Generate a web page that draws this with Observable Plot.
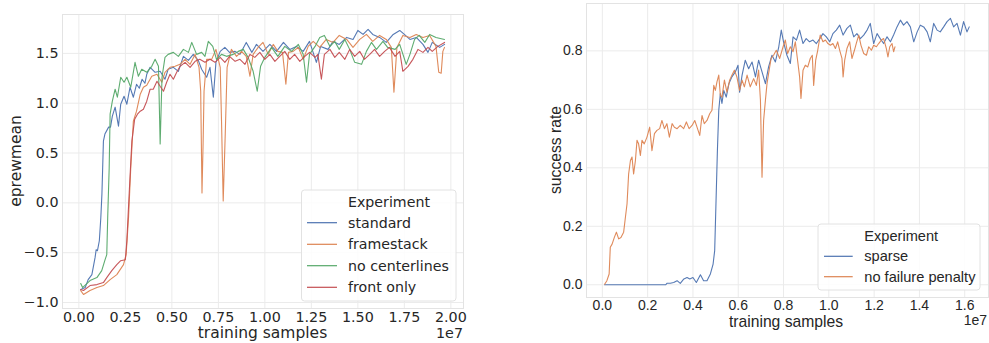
<!DOCTYPE html>
<html><head><meta charset="utf-8">
<script src="https://cdn.jsdelivr.net/npm/d3@7"></script>
<script src="https://cdn.jsdelivr.net/npm/@observablehq/plot@0.6"></script>
<style>
html,body{margin:0;padding:0;background:#fff;}
#wrap{position:relative;width:989px;height:343px;overflow:hidden;background:#fff;}
#left{position:absolute;left:0;top:0;}
#right{position:absolute;left:500px;top:0;}
</style></head><body><div id="wrap"><div id="left"></div><div id="right"></div></div>
<script>
// ---------- Left panel data (x in units of 1e7) ----------
const leftCategories = ["standard", "framestack", "no centerlines", "front only"];
const leftColors = ["#4c72b0", "#dd8452", "#55a868", "#c44e52"];
const leftXTicks = [0, 0.25, 0.5, 0.75, 1.0, 1.25, 1.5, 1.75, 2.0];
const leftYTicks = [-1.0, -0.5, 0.0, 0.5, 1.0, 1.5];

const standard = [[0.01,-0.87],[0.034,-0.85],[0.05,-0.77],[0.07,-0.72],[0.087,-0.55],[0.093,-0.47],[0.10,-0.48],[0.11,-0.38],[0.118,-0.15],[0.124,0.09],[0.129,0.42],[0.132,0.62],[0.14,0.69],[0.16,0.76],[0.17,0.76],[0.18,0.87],[0.195,0.96],[0.213,0.77],[0.225,0.99],[0.243,1.07],[0.258,0.99],[0.275,1.16],[0.293,1.06],[0.31,1.19],[0.325,1.15],[0.34,1.24],[0.355,1.2],[0.365,1.29],[0.383,1.36],[0.41,1.31],[0.437,1.32],[0.463,1.24],[0.48,1.34],[0.508,1.36],[0.535,1.32],[0.562,1.47],[0.589,1.43],[0.615,1.49],[0.642,1.43],[0.66,1.34],[0.687,1.26],[0.705,1.36],[0.723,1.06],[0.737,1.41],[0.76,1.52],[0.785,1.56],[0.81,1.51],[0.84,1.52],[0.866,1.49],[0.9,1.61],[0.93,1.51],[0.955,1.59],[0.99,1.52],[1.027,1.59],[1.063,1.52],[1.1,1.61],[1.134,1.54],[1.17,1.57],[1.206,1.52],[1.24,1.62],[1.277,1.41],[1.3,1.57],[1.34,1.54],[1.367,1.62],[1.4,1.59],[1.44,1.66],[1.474,1.64],[1.5,1.73],[1.528,1.69],[1.555,1.74],[1.58,1.69],[1.617,1.66],[1.653,1.61],[1.69,1.69],[1.725,1.73],[1.75,1.69],[1.78,1.64],[1.814,1.66],[1.85,1.59],[1.877,1.51],[1.9,1.61],[1.94,1.56],[1.966,1.59]];

const framestack = [[0.01,-0.88],[0.025,-0.92],[0.06,-0.88],[0.097,-0.85],[0.132,-0.83],[0.168,-0.77],[0.204,-0.72],[0.24,-0.62],[0.254,-0.52],[0.267,-0.15],[0.279,0.35],[0.293,0.82],[0.31,0.92],[0.33,1.09],[0.347,1.16],[0.365,1.18],[0.392,1.27],[0.42,1.29],[0.446,1.21],[0.463,1.31],[0.49,1.36],[0.517,1.37],[0.544,1.39],[0.571,1.44],[0.598,1.39],[0.625,1.49],[0.646,1.36],[0.655,1.12],[0.662,0.10],[0.668,0.6],[0.673,1.12],[0.687,1.44],[0.714,1.44],[0.737,1.54],[0.76,1.36],[0.767,0.82],[0.776,0.02],[0.787,0.69],[0.797,1.36],[0.82,1.54],[0.848,1.47],[0.875,1.52],[0.9,1.47],[0.92,1.27],[0.937,1.49],[0.964,1.56],[0.99,1.61],[1.018,1.49],[1.045,1.59],[1.07,1.52],[1.095,1.51],[1.113,1.19],[1.127,1.51],[1.152,1.52],[1.18,1.56],[1.206,1.44],[1.233,1.57],[1.26,1.62],[1.295,1.56],[1.33,1.64],[1.367,1.61],[1.4,1.68],[1.44,1.64],[1.474,1.56],[1.51,1.64],[1.546,1.69],[1.58,1.62],[1.617,1.68],[1.653,1.64],[1.68,1.56],[1.694,1.11],[1.71,1.56],[1.742,1.68],[1.78,1.66],[1.814,1.69],[1.85,1.66],[1.886,1.68],[1.92,1.57],[1.935,1.31],[1.948,1.30],[1.957,1.52],[1.966,1.56]];

const noCenterlines = [[0.01,-0.81],[0.02,-0.85],[0.06,-0.78],[0.097,-0.75],[0.123,-0.68],[0.141,-0.57],[0.15,-0.52],[0.155,-0.15],[0.163,0.35],[0.168,0.89],[0.18,1.02],[0.195,1.14],[0.207,1.06],[0.225,1.26],[0.243,1.21],[0.258,1.26],[0.279,1.16],[0.302,1.41],[0.32,1.27],[0.338,1.34],[0.365,1.31],[0.392,1.37],[0.41,1.44],[0.428,1.37],[0.437,0.59],[0.447,1.26],[0.463,1.46],[0.48,1.49],[0.508,1.51],[0.535,1.47],[0.562,1.54],[0.589,1.51],[0.607,1.61],[0.633,1.49],[0.66,1.51],[0.678,1.47],[0.696,1.62],[0.72,1.57],[0.74,1.44],[0.767,1.49],[0.794,1.47],[0.83,1.49],[0.857,1.52],[0.884,1.54],[0.91,1.46],[0.937,1.32],[0.959,1.12],[0.977,1.37],[1.0,1.46],[1.036,1.56],[1.07,1.47],[1.107,1.57],[1.143,1.52],[1.18,1.59],[1.206,1.49],[1.224,1.21],[1.24,1.49],[1.27,1.57],[1.295,1.66],[1.32,1.68],[1.35,1.57],[1.376,1.62],[1.4,1.54],[1.43,1.64],[1.456,1.54],[1.483,1.41],[1.52,1.39],[1.546,1.52],[1.573,1.61],[1.6,1.54],[1.635,1.62],[1.66,1.56],[1.7,1.54],[1.725,1.59],[1.76,1.39],[1.78,1.49],[1.805,1.64],[1.83,1.68],[1.86,1.61],[1.886,1.69],[1.92,1.66],[1.966,1.64]];

const frontOnly = [[0.01,-0.87],[0.025,-0.88],[0.06,-0.83],[0.097,-0.82],[0.132,-0.80],[0.15,-0.75],[0.177,-0.68],[0.204,-0.62],[0.225,-0.58],[0.25,-0.57],[0.258,-0.38],[0.272,0.15],[0.285,0.62],[0.3,0.84],[0.315,0.89],[0.33,0.92],[0.347,0.94],[0.365,1.02],[0.383,1.14],[0.4,1.14],[0.42,1.22],[0.437,1.17],[0.455,1.12],[0.472,1.21],[0.49,1.29],[0.508,1.24],[0.526,1.31],[0.544,1.37],[0.571,1.41],[0.598,1.36],[0.625,1.42],[0.65,1.44],[0.678,1.41],[0.705,1.44],[0.732,1.41],[0.76,1.46],[0.785,1.41],[0.81,1.47],[0.84,1.42],[0.866,1.44],[0.893,1.39],[0.92,1.49],[0.946,1.46],[0.973,1.51],[1.0,1.44],[1.027,1.49],[1.054,1.42],[1.08,1.47],[1.107,1.52],[1.134,1.44],[1.16,1.49],[1.188,1.42],[1.215,1.47],[1.24,1.51],[1.27,1.46],[1.285,1.49],[1.304,1.24],[1.32,1.49],[1.35,1.54],[1.376,1.46],[1.4,1.51],[1.43,1.44],[1.456,1.54],[1.483,1.47],[1.51,1.52],[1.535,1.44],[1.564,1.49],[1.59,1.54],[1.617,1.47],[1.644,1.52],[1.67,1.56],[1.7,1.47],[1.725,1.52],[1.742,1.32],[1.77,1.37],[1.796,1.44],[1.823,1.54],[1.85,1.51],[1.877,1.56],[1.9,1.52],[1.93,1.57],[1.966,1.61]];

// ---------- Right panel data (x in units of 1e7) ----------
const rightCategories = ["sparse", "no failure penalty"];
const rightColors = ["#4c72b0", "#dd8452"];
const rightXTicks = [0.0, 0.2, 0.4, 0.6, 0.8, 1.0, 1.2, 1.4, 1.6];
const rightYTicks = [0.0, 0.2, 0.4, 0.6, 0.8];

const sparse = [[0.01,0],[0.1,0],[0.2,0],[0.28,0],[0.285,0.005],[0.3,0.005],[0.315,0.008],[0.33,0.014],[0.344,0.005],[0.36,0.02],[0.374,0.025],[0.386,0.02],[0.4,0.025],[0.415,0.008],[0.433,0.034],[0.447,0.014],[0.462,0.014],[0.477,0.037],[0.489,0.071],[0.496,0.117],[0.502,0.288],[0.508,0.459],[0.514,0.597],[0.521,0.654],[0.528,0.62],[0.536,0.665],[0.547,0.642],[0.559,0.688],[0.572,0.711],[0.587,0.728],[0.599,0.751],[0.606,0.659],[0.617,0.717],[0.631,0.768],[0.646,0.739],[0.661,0.762],[0.676,0.711],[0.69,0.768],[0.705,0.728],[0.72,0.688],[0.734,0.745],[0.749,0.785],[0.764,0.762],[0.779,0.814],[0.79,0.871],[0.8,0.831],[0.815,0.785],[0.83,0.757],[0.842,0.848],[0.857,0.837],[0.871,0.871],[0.886,0.825],[0.9,0.842],[0.915,0.831],[0.93,0.837],[0.945,0.825],[0.96,0.842],[0.974,0.859],[0.989,0.848],[1.004,0.831],[1.018,0.859],[1.033,0.871],[1.048,0.888],[1.063,0.854],[1.08,0.877],[1.095,0.888],[1.11,0.848],[1.124,0.859],[1.139,0.842],[1.154,0.854],[1.169,0.871],[1.183,0.894],[1.198,0.825],[1.213,0.859],[1.227,0.842],[1.242,0.825],[1.257,0.848],[1.272,0.831],[1.286,0.854],[1.301,0.882],[1.316,0.905],[1.33,0.888],[1.345,0.9],[1.36,0.882],[1.375,0.831],[1.39,0.865],[1.404,0.888],[1.419,0.882],[1.434,0.865],[1.448,0.831],[1.463,0.894],[1.478,0.871],[1.492,0.865],[1.507,0.882],[1.522,0.9],[1.537,0.911],[1.551,0.882],[1.566,0.894],[1.581,0.854],[1.595,0.9],[1.61,0.865],[1.62,0.882]];

const noFailurePenalty = [[0.01,0.002],[0.02,0.014],[0.03,0.037],[0.035,0.128],[0.043,0.139],[0.053,0.162],[0.062,0.18],[0.072,0.157],[0.082,0.162],[0.094,0.18],[0.1,0.219],[0.109,0.277],[0.116,0.379],[0.124,0.425],[0.131,0.437],[0.138,0.379],[0.146,0.425],[0.153,0.494],[0.16,0.482],[0.168,0.442],[0.175,0.494],[0.185,0.482],[0.197,0.505],[0.209,0.539],[0.219,0.459],[0.23,0.517],[0.241,0.528],[0.253,0.534],[0.263,0.562],[0.274,0.534],[0.285,0.551],[0.296,0.505],[0.308,0.551],[0.318,0.539],[0.33,0.534],[0.344,0.545],[0.359,0.534],[0.371,0.557],[0.383,0.534],[0.396,0.545],[0.408,0.562],[0.418,0.539],[0.43,0.511],[0.44,0.579],[0.45,0.551],[0.462,0.562],[0.474,0.585],[0.484,0.597],[0.492,0.682],[0.499,0.665],[0.506,0.694],[0.514,0.717],[0.521,0.648],[0.528,0.642],[0.539,0.7],[0.55,0.659],[0.562,0.7],[0.572,0.717],[0.583,0.734],[0.594,0.711],[0.606,0.665],[0.617,0.7],[0.627,0.677],[0.639,0.717],[0.653,0.677],[0.668,0.705],[0.68,0.682],[0.69,0.734],[0.698,0.631],[0.705,0.368],[0.712,0.562],[0.72,0.631],[0.727,0.688],[0.734,0.722],[0.745,0.774],[0.756,0.785],[0.768,0.802],[0.783,0.774],[0.798,0.814],[0.808,0.837],[0.818,0.791],[0.83,0.814],[0.842,0.797],[0.852,0.831],[0.862,0.768],[0.871,0.711],[0.877,0.637],[0.886,0.734],[0.896,0.751],[0.907,0.745],[0.918,0.774],[0.927,0.785],[0.933,0.682],[0.942,0.768],[0.951,0.802],[0.962,0.854],[0.974,0.831],[0.985,0.837],[0.996,0.825],[1.007,0.819],[1.018,0.825],[1.029,0.808],[1.039,0.831],[1.048,0.802],[1.058,0.774],[1.063,0.711],[1.07,0.768],[1.08,0.808],[1.092,0.831],[1.102,0.774],[1.113,0.802],[1.121,0.825],[1.132,0.854],[1.142,0.819],[1.154,0.791],[1.166,0.785],[1.176,0.814],[1.188,0.802],[1.198,0.819],[1.21,0.814],[1.22,0.825],[1.232,0.837],[1.242,0.842],[1.254,0.808],[1.261,0.779],[1.269,0.814],[1.279,0.825],[1.286,0.797],[1.292,0.814]];

const GRID = "#ebebeb";
const TEXT = "#262626";

function makePanel(cfg) {
  const marks = [
    Plot.gridX(cfg.xTicks, {stroke: GRID, strokeOpacity: 1, strokeWidth: 1}),
    Plot.gridY(cfg.yTicks, {stroke: GRID, strokeOpacity: 1, strokeWidth: 1}),
    Plot.frame({stroke: "#e3e3e3", strokeWidth: 1}),
    Plot.axisX(cfg.xTicks, {tickSize: 0, tickPadding: cfg.xPad, tickFormat: cfg.xFmt, fontSize: cfg.tickFont, label: null, fill: TEXT}),
    Plot.axisY(cfg.yTicks, {tickSize: 0, tickPadding: cfg.yPad, tickFormat: cfg.yFmt, fontSize: cfg.tickFont, label: null, fill: TEXT}),
    ...cfg.series.map((s, i) => Plot.line(s, {x: d => d[0], y: d => d[1], stroke: cfg.colors[i], strokeWidth: 1.1, strokeOpacity: 0.95}))
  ];
  const svg = Plot.plot({
    width: cfg.width, height: cfg.height,
    marginLeft: cfg.m[0], marginRight: cfg.m[1], marginTop: cfg.m[2], marginBottom: cfg.m[3],
    style: {fontFamily: cfg.font, color: TEXT, background: "transparent"},
    x: {domain: cfg.xDomain, label: null},
    y: {domain: cfg.yDomain, label: null},
    marks
  });
  const g = d3.select(svg).append("g").attr("font-family", cfg.font).attr("fill", TEXT);
  // axis labels
  g.append("text").attr("x", cfg.xLabelPos[0]).attr("y", cfg.xLabelPos[1]).attr("text-anchor", "middle")
    .attr("dominant-baseline", "central").attr("font-size", cfg.labelFont).text("training samples");
  g.append("text").attr("x", cfg.offsetPos[0]).attr("y", cfg.offsetPos[1]).attr("text-anchor", "end")
    .attr("dominant-baseline", "central").attr("font-size", cfg.tickFont).text("1e7");
  g.append("text").attr("transform", `translate(${cfg.yLabelPos[0]},${cfg.yLabelPos[1]}) rotate(-90)`)
    .attr("text-anchor", "middle").attr("dominant-baseline", "central").attr("font-size", cfg.labelFont).text(cfg.yLabel);
  // legend
  const L = cfg.legend;
  g.append("rect").attr("x", L.x).attr("y", L.y).attr("width", L.w).attr("height", L.h).attr("rx", 3)
    .attr("fill", "#fff").attr("fill-opacity", 0.85).attr("stroke", "#e2e2e2").attr("stroke-width", 1);
  g.append("text").attr("x", L.tx).attr("y", L.titleY).attr("text-anchor", "start").attr("dominant-baseline", "central")
    .attr("font-size", cfg.legendFont).text("Experiment");
  cfg.categories.forEach((c, i) => {
    g.append("line").attr("x1", L.lx0).attr("x2", L.lx1).attr("y1", L.rows[i]).attr("y2", L.rows[i])
      .attr("stroke", cfg.colors[i]).attr("stroke-width", 1.2);
    g.append("text").attr("x", L.tx).attr("y", L.rows[i]).attr("text-anchor", "start").attr("dominant-baseline", "central")
      .attr("font-size", cfg.legendFont).text(c);
  });
  return svg;
}

document.getElementById("left").appendChild(makePanel({
  width: 480, height: 343, m: [62, 17, 14, 35],
  font: "DejaVu Sans", tickFont: 14.3, labelFont: 15.5, legendFont: 14.2,
  xTicks: leftXTicks, yTicks: leftYTicks, xFmt: d3.format(".2f"), yFmt: d3.format(".1f"),
  xPad: 3, yPad: 4,
  xDomain: [-0.088, 2.068], yDomain: [-1.06, 1.89],
  series: [standard, framestack, noCenterlines, frontOnly], colors: leftColors, categories: leftCategories,
  yLabel: "eprewmean",
  xLabelPos: [262.5, 333], offsetPos: [463, 333], yLabelPos: [16, 161],
  legend: {x: 301.5, y: 190, w: 154.5, h: 111, tx: 348, titleY: 201.7, lx0: 307, lx1: 337, rows: [222.7, 244.3, 265.7, 287.3]}
}));

document.getElementById("right").appendChild(makePanel({
  width: 489, height: 343, m: [86, 1, 3, 46],
  font: "Liberation Sans", tickFont: 14, labelFont: 15.7, legendFont: 14.6,
  xTicks: rightXTicks, yTicks: rightYTicks, xFmt: d3.format(".1f"), yFmt: d3.format(".1f"),
  xPad: 3, yPad: 4,
  xDomain: [-0.07, 1.705], yDomain: [-0.0435, 0.962],
  series: [sparse, noFailurePenalty], colors: rightColors, categories: rightCategories,
  yLabel: "success rate",
  xLabelPos: [286, 321], offsetPos: [487, 319.5], yLabelPos: [55, 150],
  legend: {x: 318, y: 224, w: 162, h: 66, tx: 364.3, titleY: 236, lx0: 324, lx1: 352.7, rows: [256.3, 276.7]}
}));
</script></body></html>
